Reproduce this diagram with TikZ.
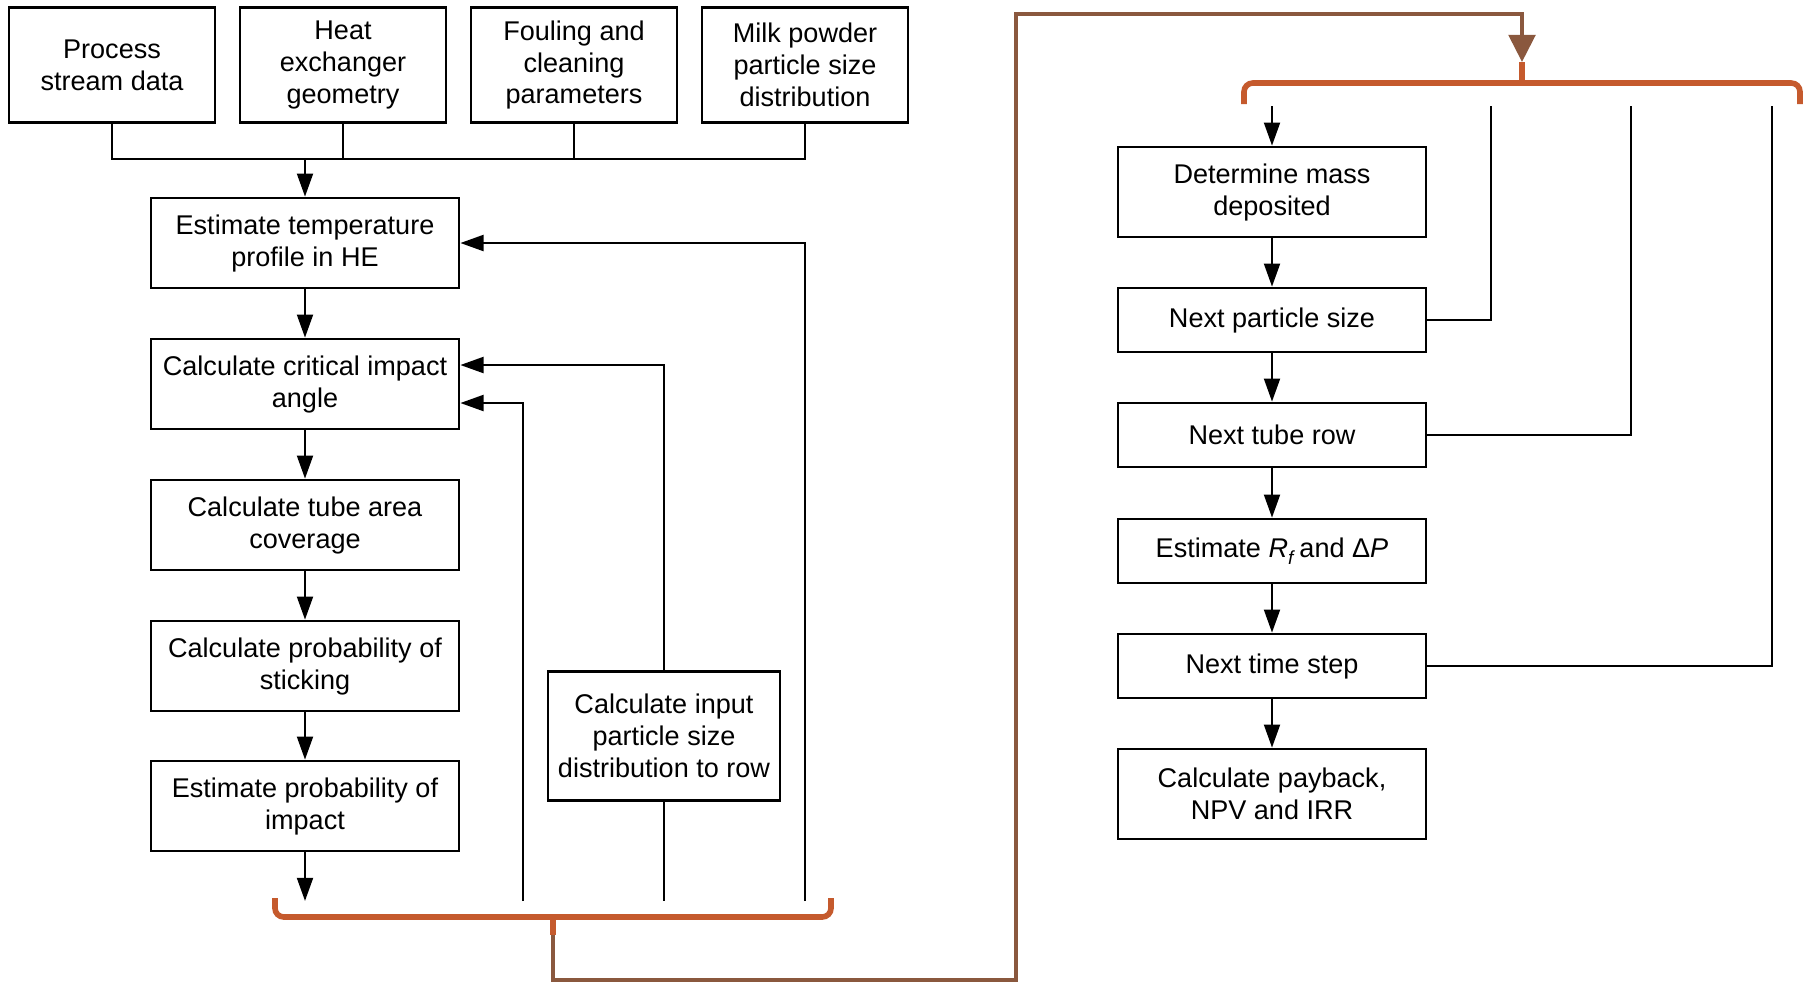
\documentclass[tikz,border=0pt]{standalone}
\usepackage{fontspec}
\setmainfont{Liberation Sans}
\usepackage{tikz}
\usetikzlibrary{arrows.meta,positioning,calc}
\definecolor{bracecol}{RGB}{197,90,45}
\definecolor{linkcol}{RGB}{138,88,62}

\begin{document}
\begin{tikzpicture}[line width=0.75pt, >={Triangle[length=6.6pt,width=4.5pt]},
    every node/.style={font=\fontsize{7.7}{9.1}\selectfont},
    box/.style={draw, minimum width=3.08cm, minimum height=0.9cm, align=center, inner sep=1pt},
    thinbox/.style={box, minimum height=0.64cm},
    inbox/.style={box, minimum width=2.06cm, minimum height=1.15cm},
    brace/.style={draw=bracecol, line width=1.6pt, rounded corners=2.5pt},
    link/.style={draw=linkcol, line width=1.2pt}]
            \useasboundingbox (0,0) rectangle (18.04,-9.83);

            % Inputs
            \node[inbox] (proc) at (1.12,-0.65) {Process\\stream data};
            \node[inbox] (heat) at (3.43,-0.65) {Heat\\exchanger\\geometry};
            \node[inbox] (foul) at (5.74,-0.65) {Fouling and\\cleaning\\parameters};
            \node[inbox] (milk) at (8.05,-0.65) {Milk powder\\particle size\\distribution};
            \coordinate (join) at (3.05,-1.59);
            \draw (proc.south) |- (join);
            \draw (milk.south) |- (join);
            \draw (heat.south) -- (heat.south |- join);
            \draw (foul.south) -- (foul.south |- join);

            % Deposition model
            \node[box] (temp) at (3.05,-2.43) {Estimate temperature\\profile in HE};
            \node[box] (crit) at (3.05,-3.84) {Calculate critical impact\\angle};
            \node[box] (area) at (3.05,-5.25) {Calculate tube area\\coverage};
            \node[box] (stick) at (3.05,-6.66) {Calculate probability of\\sticking};
            \node[box] (impact) at (3.05,-8.06) {Estimate probability of\\impact};
            \node[box, minimum width=2.32cm, minimum height=1.29cm] (input) at (6.64,-7.36) {Calculate input\\particle size\\distribution to row};
            \draw[->] (join) -- (temp);
            \draw[->] (temp) -- (crit);
            \draw[->] (crit) -- (area);
            \draw[->] (area) -- (stick);
            \draw[->] (stick) -- (impact);

            % Loops back
            \coordinate (b0) at (3.05,-9.01);
            \coordinate (b1) at (5.23,-9.01);
            \coordinate (b2) at (6.64,-9.01);
            \coordinate (b3) at (8.05,-9.01);
            \draw[->] (impact) -- (b0);
            \draw[->] (b1) |- ([yshift=-1.9mm]crit.east);
            \draw[->] (input.north) |- ([yshift=1.9mm]crit.east);
            \draw (input.south) -- (b2);
            \draw[->] (b3) |- (temp.east);

            % Braces and link
            \draw[brace] (2.75,-8.98) |- (5.53,-9.17) -| (8.31,-8.98);
            \draw[brace] (5.53,-9.17) -- (5.53,-9.35);
            \draw[brace] (12.44,-1.04) |- (15.22,-0.83) -| (18.00,-1.04);
            \draw[brace] (15.22,-0.83) -- (15.22,-0.62);
            \coordinate (btip) at (5.53,-9.35);
            \coordinate (ttip) at (15.22,-0.62);
            \draw[link, -{Triangle[length=7.7pt,width=7.5pt]}, linkcol] (btip) |- (10.16,-9.80) |- (15.22,-0.14) -- (ttip);

            % Outer loops
            \node[box] (mass) at (12.72,-1.92) {Determine mass\\deposited};
            \node[thinbox] (psize) at (12.72,-3.20) {Next particle size};
            \node[thinbox] (row) at (12.72,-4.35) {Next tube row};
            \node[thinbox] (rf) at (12.72,-5.51) {Estimate \textit{R}\raisebox{-0.45ex}{\fontsize{5.4}{6}\selectfont\textit{f}}\,and Δ\textit{P}};
            \node[thinbox] (tstep) at (12.72,-6.66) {Next time step};
            \node[box] (pay) at (12.72,-7.94) {Calculate payback,\\NPV and IRR};
            \coordinate (t0) at (12.72,-1.06);
            \coordinate (t1) at (14.91,-1.06);
            \coordinate (t2) at (16.31,-1.06);
            \coordinate (t3) at (17.72,-1.06);
            \draw[->] (t0) -- (mass);
            \draw[->] (mass) -- (psize);
            \draw[->] (psize) -- (row);
            \draw[->] (row) -- (rf);
            \draw[->] (rf) -- (tstep);
            \draw[->] (tstep) -- (pay);
            \draw (t1) |- (psize.east);
            \draw (t2) |- (row.east);
            \draw (t3) |- (tstep.east);
        \end{tikzpicture}
\end{document}
